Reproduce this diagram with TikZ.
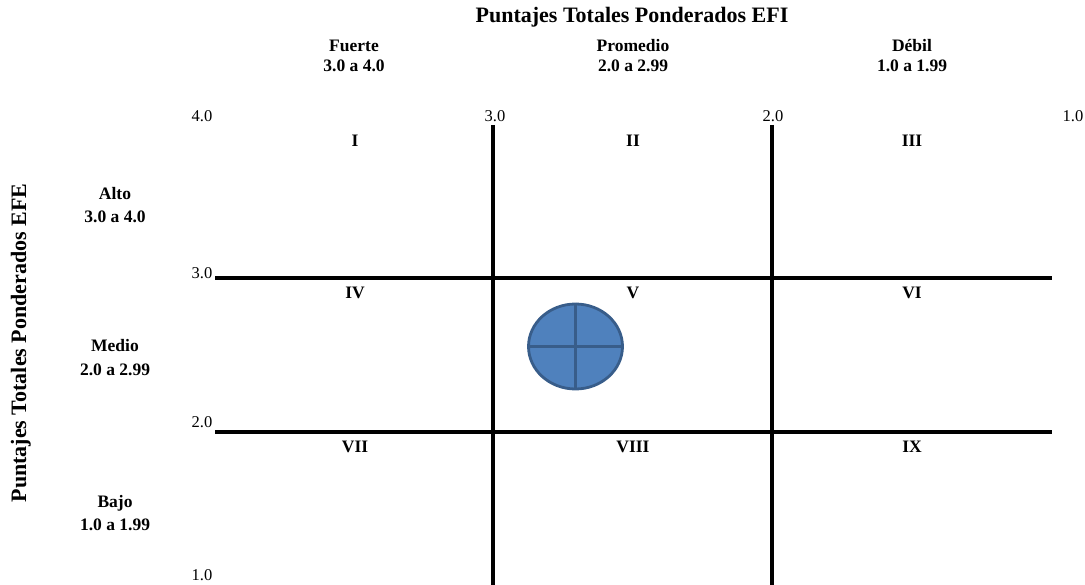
\documentclass[tikz,border=0pt]{standalone}
\usepackage{fontspec}
\setmainfont{Liberation Serif}
\usetikzlibrary{shapes.geometric}
\definecolor{bubblefill}{HTML}{4F81BD}
\definecolor{bubbleedge}{HTML}{385D8A}
\tikzset{
  gridline/.style={line width=3.2pt, black},
  titletxt/.style={font=\bfseries\fontsize{22}{26}\selectfont, anchor=base, inner sep=0pt},
  headtxt/.style={font=\bfseries\fontsize{17.5}{20}\selectfont, anchor=base, inner sep=0pt},
  numtxt/.style={font=\fontsize{16.5}{19}\selectfont, anchor=base, inner sep=0pt},
  romantxt/.style={font=\bfseries\fontsize{17.5}{20}\selectfont, anchor=base, inner sep=0pt},
  bubble/.style={ellipse, draw=bubbleedge, fill=bubblefill, line width=2.8pt, minimum width=94pt, minimum height=85pt, inner sep=0pt},
  crossline/.style={draw=bubbleedge, line width=2.8pt}
}
\begin{document}
\begin{tikzpicture}[x=1pt,y=-1pt]
\useasboundingbox (0,0) rectangle (1085,585);
% grid lines
\coordinate (v1t) at (493,125); \coordinate (v1b) at (493,585);
\coordinate (v2t) at (772,125); \coordinate (v2b) at (772,585);
\coordinate (h1l) at (215,278); \coordinate (h1r) at (1052,278);
\coordinate (h2l) at (215,432); \coordinate (h2r) at (1052,432);
\draw[gridline] (v1t) -- (v1b);
\draw[gridline] (v2t) -- (v2b);
\draw[gridline] (h1l) -- (h1r);
\draw[gridline] (h2l) -- (h2r);
% titles
\node[titletxt] (title) at (632,23) {Puntajes Totales Ponderados EFI};
\node[titletxt, rotate=90] (ytitle) at (26,343) {Puntajes Totales Ponderados EFE};
% column headers
\node[headtxt] (fuerte) at (354,52) {Fuerte};
\node[headtxt] (fuerter) at (354,72) {3.0 a 4.0};
\node[headtxt] (prom) at (633,52) {Promedio};
\node[headtxt] (promr) at (633,72) {2.0 a 2.99};
\node[headtxt] (debil) at (912,52) {Débil};
\node[headtxt] (debilr) at (912,72) {1.0 a 1.99};
% row headers
\node[headtxt] (alto) at (115,200) {Alto};
\node[headtxt] (altor) at (115,223) {3.0 a 4.0};
\node[headtxt] (medio) at (115,352) {Medio};
\node[headtxt] (medior) at (115,376) {2.0 a 2.99};
\node[headtxt] (bajo) at (115,507) {Bajo};
\node[headtxt] (bajor) at (115,530) {1.0 a 1.99};
% axis numbers
\node[numtxt] (x4) at (202,122) {4.0};
\node[numtxt] (x3) at (495,122) {3.0};
\node[numtxt] (x2) at (773,122) {2.0};
\node[numtxt] (x1) at (1073,122) {1.0};
\node[numtxt] (y3) at (202,279) {3.0};
\node[numtxt] (y2) at (202,428) {2.0};
\node[numtxt] (y1) at (202,580) {1.0};
% cell numerals
\node[romantxt] (c1) at (355,147) {I};
\node[romantxt] (c2) at (633,147) {II};
\node[romantxt] (c3) at (912,147) {III};
\node[romantxt] (c4) at (355,299) {IV};
\node[romantxt] (c5) at (633,299) {V};
\node[romantxt] (c6) at (912,299) {VI};
\node[romantxt] (c7) at (355,453) {VII};
\node[romantxt] (c8) at (633,453) {VIII};
\node[romantxt] (c9) at (912,453) {IX};
% bubble
\node[bubble] (b) at (575.5,346.5) {};
\draw[crossline] (b.north) -- (b.south);
\draw[crossline] (b.west) -- (b.east);
\end{tikzpicture}
\end{document}
